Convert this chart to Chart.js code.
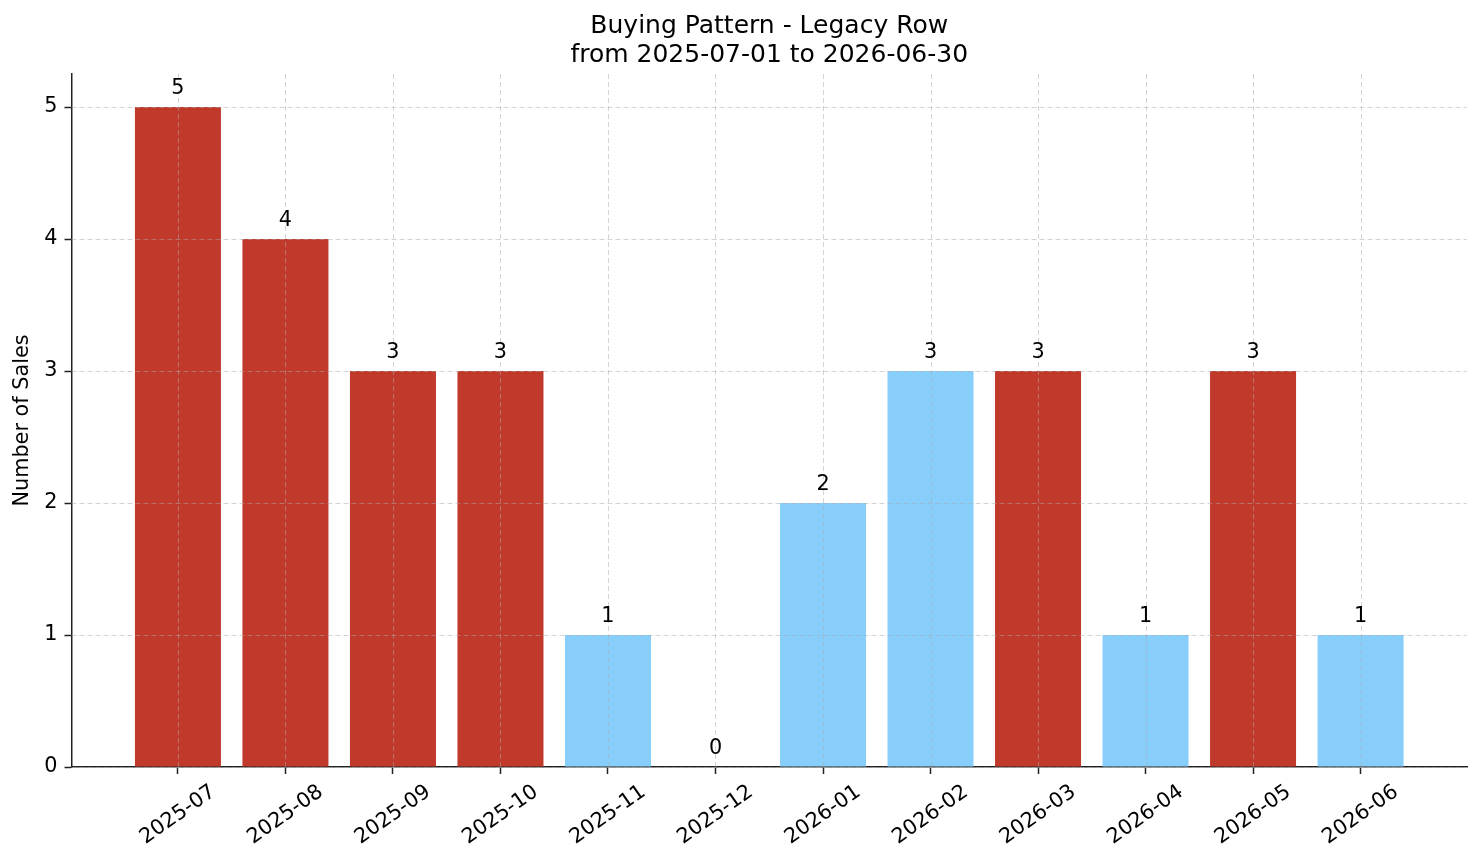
<!DOCTYPE html>
<html lang="en">
<head>
  <meta charset="UTF-8" />
  <title>Buying Pattern - Legacy Row</title>
  <style>
    body { margin: 0; background: #fff; overflow: hidden; }
    canvas { display: block; }
  </style>
</head>
<body>
  <canvas id="salesChart" width="1481" height="863"></canvas>

  <script src="https://cdn.jsdelivr.net/npm/chart.js"></script>
  <script>
    // data
    const months = ['2025-07', '2025-08', '2025-09', '2025-10', '2025-11', '2025-12',
                    '2026-01', '2026-02', '2026-03', '2026-04', '2026-05', '2026-06'];
    const sales = [5, 4, 3, 3, 1, 0, 2, 3, 3, 1, 3, 1];
    // months drawn in red in the reference (the rest are light blue)
    const highlighted = [true, true, true, true, false, false, false, false, true, false, true, false];
    const yTicks = [0, 1, 2, 3, 4, 5];
    const titleLines = ['Buying Pattern - Legacy Row', 'from 2025-07-01 to 2026-06-30'];

    const RED = '#c0392b';
    const BLUE = '#87cefa';
    const FONT = 'DejaVu Sans';
    const FS = 20.8;

    // matplotlib-style dashed grid drawn over the bars, then title, value labels and rotated month labels
    const overlay = {
      id: 'overlay',
      afterDatasetsDraw(chart) {
        const { ctx, chartArea: a } = chart;
        const xs = chart.scales.x, ys = chart.scales.y;
        ctx.save();
        ctx.strokeStyle = 'rgba(170,170,170,0.5)';
        ctx.lineWidth = 1;
        ctx.setLineDash([5, 3]);
        months.forEach((m, i) => {
          const x = Math.round(xs.getPixelForValue(i)) + 0.5;
          ctx.beginPath(); ctx.moveTo(x, a.top); ctx.lineTo(x, a.bottom); ctx.stroke();
        });
        yTicks.forEach(v => {
          const y = Math.round(ys.getPixelForValue(v)) + 0.5;
          ctx.beginPath(); ctx.moveTo(a.left, y); ctx.lineTo(a.right, y); ctx.stroke();
        });
        ctx.restore();
      },
      afterDraw(chart) {
        const { ctx, chartArea: a } = chart;
        const xs = chart.scales.x, ys = chart.scales.y;
        ctx.save();
        ctx.fillStyle = '#000';

        // title, centred over the plot area
        ctx.font = '25px "' + FONT + '"';
        ctx.textAlign = 'center';
        ctx.textBaseline = 'alphabetic';
        const cx = (a.left + a.right) / 2;
        ctx.fillText(titleLines[0], cx, 33);
        ctx.fillText(titleLines[1], cx, 61.5);

        // value labels
        ctx.font = FS + 'px "' + FONT + '"';
        sales.forEach((v, i) => {
          ctx.fillText(String(v), xs.getPixelForValue(i), ys.getPixelForValue(v) - 13);
        });

        // x tick labels, rotated 35deg, centred under the tick
        const rot = 35 * Math.PI / 180;
        const top = a.bottom + 7 + 7;
        months.forEach((m, i) => {
          const w = ctx.measureText(m).width;
          const h = FS * 1.05;
          const H = w * Math.sin(rot) + h * Math.cos(rot);
          ctx.save();
          ctx.translate(xs.getPixelForValue(i), top + H / 2);
          ctx.rotate(-rot);
          ctx.textAlign = 'center';
          ctx.textBaseline = 'middle';
          ctx.fillText(m, 0, 0);
          ctx.restore();
        });
        ctx.restore();
      }
    };

    new Chart(document.getElementById('salesChart'), {
      type: 'bar',
      data: {
        datasets: [{
          data: sales.map((v, i) => ({ x: i, y: v })),
          backgroundColor: highlighted.map(h => h ? RED : BLUE),
          borderWidth: 0,
          barPercentage: 0.8,
          categoryPercentage: 1.0
        }]
      },
      options: {
        responsive: false,
        animation: false,
        layout: { padding: { left: 0, right: 14, top: 74, bottom: 0 } },
        plugins: {
          legend: { display: false },
          tooltip: { enabled: false },
          title: { display: false }
        },
        scales: {
          x: {
            type: 'linear',
            min: -0.99,
            max: 11.99,
            offset: false,
            z: 1,
            afterBuildTicks: s => { s.ticks = months.map((m, i) => ({ value: i })); },
            afterFit: s => { s.height = 96; },
            ticks: { display: false },
            grid: { offset: false, drawOnChartArea: false, drawTicks: true, tickLength: 7, tickColor: '#222', tickWidth: 1.5 },
            border: { display: true, color: '#222', width: 1.5 }
          },
          y: {
            min: 0,
            max: 5.25,
            z: 1,
            afterBuildTicks: s => { s.ticks = yTicks.map(v => ({ value: v })); },
            afterFit: s => { s.width = 71.5; },
            ticks: {
              color: '#000',
              padding: 7,
              font: { family: FONT, size: FS },
              callback: v => String(v)
            },
            grid: { drawOnChartArea: false, drawTicks: true, tickLength: 7, tickColor: '#222', tickWidth: 1.5 },
            border: { display: true, color: '#222', width: 1.5 },
            title: {
              display: true,
              text: 'Number of Sales',
              color: '#000',
              font: { family: FONT, size: FS },
              padding: { top: 10, bottom: 0 }
            }
          }
        }
      },
      plugins: [overlay]
    });
  </script>
</body>
</html>
